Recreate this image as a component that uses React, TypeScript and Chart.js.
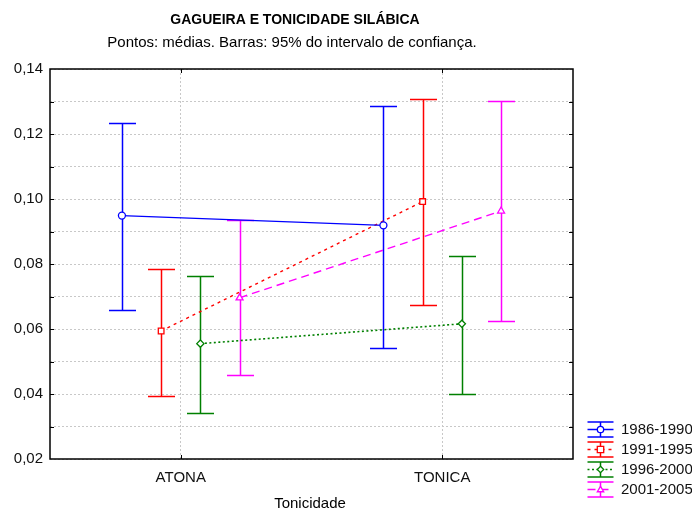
import React, { useEffect, useRef } from "react";
import { Chart, registerables } from "chart.js";

Chart.register(...registerables);

const categories = ["ATONA", "TONICA"];
const seriesLabels = ["1986-1990", "1991-1995", "1996-2000", "2001-2005"];

const mean1986 = [0.0949, 0.0919];
const low1986 = [0.0658, 0.0543];
const high1986 = [0.1235, 0.1286];

const mean1991 = [0.0594, 0.0992];
const low1991 = [0.0393, 0.0675];
const high1991 = [0.0786, 0.1308];

const mean1996 = [0.0555, 0.0616];
const low1996 = [0.0342, 0.0401];
const high1996 = [0.0764, 0.0825];

const mean2001 = [0.0696, 0.0963];
const low2001 = [0.0457, 0.0625];
const high2001 = [0.0934, 0.1302];

const yMin = 0.02;
const yMax = 0.14;
const yStep = 0.01;

const TITLE = "GAGUEIRA E TONICIDADE SILÁBICA";
const SUBTITLE = "Pontos: médias. Barras: 95% do intervalo de confiança.";
const X_TITLE = "Tonicidade";

// styling / layout (not data)
const FONT = "'Liberation Sans', Arial, sans-serif";
const styles = [
  { color: "#0000ff", dash: [] as number[], point: "circle", radius: 3.5, offset: -0.225 },
  { color: "#ff0000", dash: [3, 4], point: "rect", radius: 4, offset: -0.075 },
  { color: "#008000", dash: [2, 2.5], point: "rectRot", radius: 3.6, offset: 0.075 },
  { color: "#ff00ff", dash: [8, 5], point: "triangle", radius: 4, offset: 0.225 },
];

const means = [mean1986, mean1991, mean1996, mean2001];
const lows = [low1986, low1991, low1996, low2001];
const highs = [high1986, high1991, high1996, high2001];

const CAP = 13.5;

function drawMarker(ctx: CanvasRenderingContext2D, style: string, r: number, x: number, y: number, color: string) {
  ctx.save();
  ctx.strokeStyle = color;
  ctx.fillStyle = "#fff";
  ctx.lineWidth = 1.3;
  ctx.setLineDash([]);
  ctx.beginPath();
  if (style === "circle") {
    ctx.arc(x, y, r, 0, Math.PI * 2);
  } else if (style === "rect") {
    ctx.rect(x - r, y - r, 2 * r, 2 * r);
  } else if (style === "rectRot") {
    ctx.moveTo(x, y - r);
    ctx.lineTo(x + r, y);
    ctx.lineTo(x, y + r);
    ctx.lineTo(x - r, y);
    ctx.closePath();
  } else {
    ctx.moveTo(x, y - r);
    ctx.lineTo(x + r, y + r * 0.7);
    ctx.lineTo(x - r, y + r * 0.7);
    ctx.closePath();
  }
  ctx.fill();
  ctx.stroke();
  ctx.restore();
}

const decorPlugin = {
  id: "decor",
  beforeDatasetsDraw(chart: any) {
    const { ctx, scales } = chart;
    const xs = scales.x;
    const ys = scales.y;
    ctx.save();
    ctx.lineWidth = 1.5;
    ctx.setLineDash([]);
    for (let s = 0; s < means.length; s++) {
      ctx.strokeStyle = styles[s].color;
      for (let c = 0; c < categories.length; c++) {
        const x = Math.round(xs.getPixelForValue(c + styles[s].offset)) + 0.5;
        const yh = Math.round(ys.getPixelForValue(highs[s][c])) + 0.5;
        const yl = Math.round(ys.getPixelForValue(lows[s][c])) + 0.5;
        ctx.beginPath();
        ctx.moveTo(x, yh);
        ctx.lineTo(x, yl);
        ctx.moveTo(x - CAP, yh);
        ctx.lineTo(x + CAP, yh);
        ctx.moveTo(x - CAP, yl);
        ctx.lineTo(x + CAP, yl);
        ctx.stroke();
      }
    }
    ctx.restore();
  },
  afterDraw(chart: any) {
    const { ctx, chartArea, scales } = chart;
    const { left, right, top, bottom } = chartArea;
    ctx.save();
    // frame
    ctx.strokeStyle = "#000";
    ctx.lineWidth = 1.5;
    ctx.setLineDash([]);
    ctx.strokeRect(Math.round(left), Math.round(top), Math.round(right - left), Math.round(bottom - top));
    // inward ticks
    ctx.lineWidth = 1;
    const ys = scales.y;
    for (let v = yMin + yStep; v < yMax - yStep / 2; v += yStep) {
      const y = Math.round(ys.getPixelForValue(v)) + 0.5;
      ctx.beginPath();
      ctx.moveTo(left, y);
      ctx.lineTo(left + 4, y);
      ctx.moveTo(right, y);
      ctx.lineTo(right - 4, y);
      ctx.stroke();
    }
    const xs = scales.x;
    for (let c = 0; c < categories.length; c++) {
      const x = Math.round(xs.getPixelForValue(c)) + 0.5;
      ctx.beginPath();
      ctx.moveTo(x, bottom);
      ctx.lineTo(x, bottom - 4);
      ctx.moveTo(x, top);
      ctx.lineTo(x, top + 4);
      ctx.stroke();
    }
    // titles
    ctx.fillStyle = "#000";
    ctx.textAlign = "center";
    ctx.textBaseline = "middle";
    ctx.font = `bold 14px ${FONT}`;
    ctx.fillText(TITLE, 295, 20);
    ctx.font = `15px ${FONT}`;
    ctx.fillText(SUBTITLE, 292, 43);
    ctx.fillText(X_TITLE, 310, 504);
    // legend
    for (let s = 0; s < seriesLabels.length; s++) {
      const cy = 429 + 20 * s + 0.5;
      const cx = 600.5;
      const st = styles[s];
      ctx.strokeStyle = st.color;
      ctx.lineWidth = 1.5;
      ctx.setLineDash([]);
      ctx.beginPath();
      ctx.moveTo(cx - 13, cy - 7.5);
      ctx.lineTo(cx + 13, cy - 7.5);
      ctx.moveTo(cx - 13, cy + 7.5);
      ctx.lineTo(cx + 13, cy + 7.5);
      ctx.moveTo(cx, cy - 7.5);
      ctx.lineTo(cx, cy + 7.5);
      ctx.stroke();
      ctx.setLineDash(st.dash.length ? st.dash : []);
      ctx.beginPath();
      ctx.moveTo(cx - 13, cy);
      ctx.lineTo(cx + 13, cy);
      ctx.stroke();
      ctx.setLineDash([]);
      drawMarker(ctx, st.point, 3.2, cx, cy, st.color);
      ctx.fillStyle = "#111";
      ctx.textAlign = "left";
      ctx.textBaseline = "middle";
      ctx.font = `15px ${FONT}`;
      ctx.fillText(seriesLabels[s], 621, cy);
    }
    ctx.restore();
  },
};

export default function App() {
  const ref = useRef<HTMLCanvasElement>(null);
  useEffect(() => {
    if (!ref.current) return;
    const datasets = means.map((m, s) => ({
      label: seriesLabels[s],
      data: m.map((v, c) => ({ x: c + styles[s].offset, y: v })),
      borderColor: styles[s].color,
      backgroundColor: "#ffffff",
      borderWidth: s === 2 ? 1.6 : 1.4,
      borderDash: styles[s].dash,
      pointStyle: styles[s].point as any,
      pointRadius: styles[s].radius,
      pointBorderWidth: 1.3,
      pointBackgroundColor: "#ffffff",
      pointBorderColor: styles[s].color,
      showLine: true,
      tension: 0,
    }));
    const chart = new Chart(ref.current, {
      type: "scatter",
      data: { datasets },
      plugins: [decorPlugin],
      options: {
        animation: false,
        responsive: false,
        events: [],
        layout: { padding: { left: 0, right: 119, top: 69, bottom: 0 } },
        plugins: { legend: { display: false }, tooltip: { enabled: false }, title: { display: false } },
        scales: {
          x: {
            type: "linear",
            min: -0.5,
            max: 1.5,
            afterBuildTicks: (scale: any) => {
              scale.ticks = categories.map((_, i) => ({ value: i }));
            },
            afterFit: (scale: any) => {
              scale.height = 511 - 459;
            },
            ticks: {
              callback: (v: any) => categories[Math.round(Number(v))] ?? "",
              color: "#111",
              font: { family: FONT, size: 15 },
              padding: 10,
              maxRotation: 0,
              autoSkip: false,
            },
            grid: { color: "#c8c8c8", drawTicks: false, lineWidth: 1 },
            border: { display: false, dash: [2, 2] },
          },
          y: {
            type: "linear",
            min: yMin,
            max: yMax,
            afterFit: (scale: any) => {
              scale.width = 50;
            },
            ticks: {
              stepSize: yStep,
              callback: (v: any) => {
                const n = Math.round(Number(v) * 100);
                return n % 2 === 0 ? (n / 100).toFixed(2).replace(".", ",") : "";
              },
              color: "#111",
              font: { family: FONT, size: 15 },
              padding: 7,
              autoSkip: false,
            },
            grid: { color: "#c8c8c8", drawTicks: false, lineWidth: 1 },
            border: { display: false, dash: [2, 2] },
          },
        },
      },
    });
    return () => chart.destroy();
  }, []);
  return (
    <div style={{ position: "absolute", left: 0, top: 0, width: 692, height: 511, background: "#fff" }}>
      <canvas ref={ref} width={692} height={511} style={{ width: 692, height: 511 }} />
    </div>
  );
}
